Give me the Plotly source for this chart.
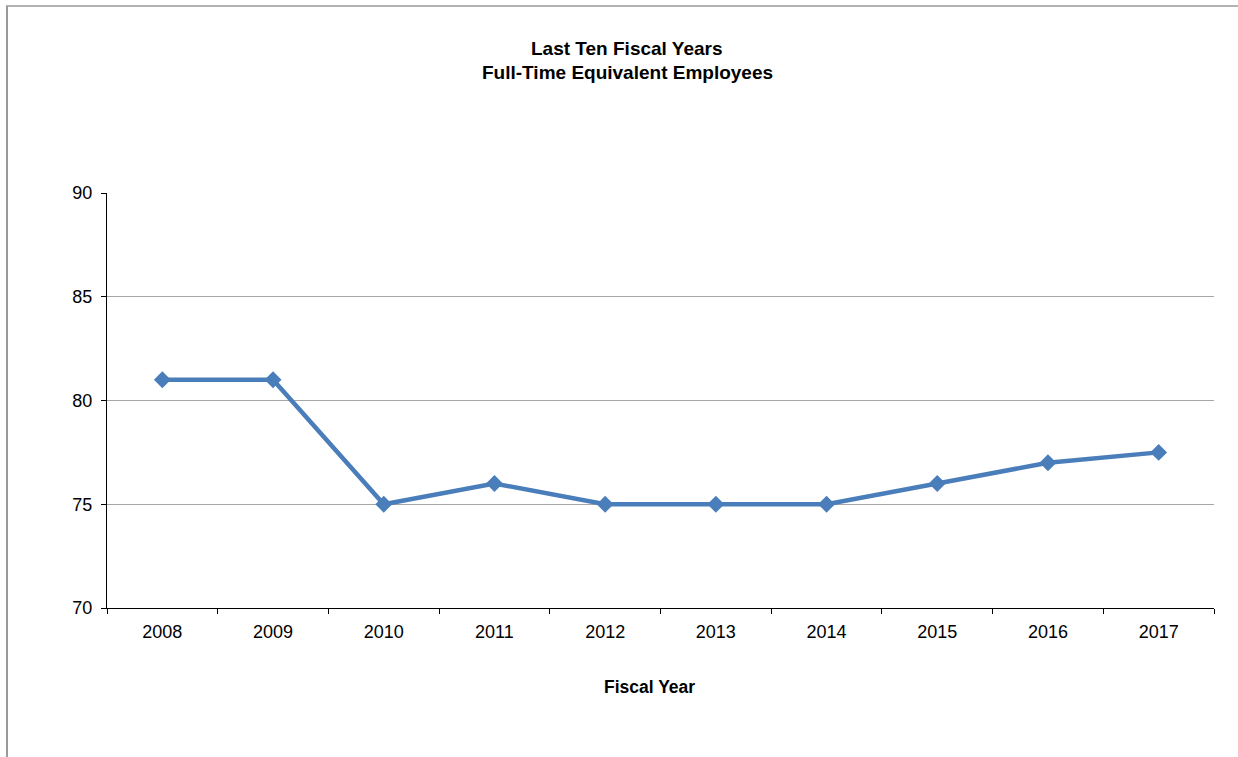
import plotly.graph_objects as go

# Full-time equivalent employees by fiscal year
fiscal_years = ["2008", "2009", "2010", "2011", "2012", "2013", "2014", "2015", "2016", "2017"]
fte_counts = [81, 81, 75, 76, 75, 75, 75, 76, 77, 77.5]

y_ticks = [70, 75, 80, 85, 90]
title_lines = ["Last Ten Fiscal Years", "Full-Time Equivalent Employees"]

FONT = "Liberation Sans, Arial, sans-serif"
LINE_BLUE = "#4A7EBB"

# Plot-area geometry in pixels (used to place frame lines and labels in paper units)
W, H = 1238, 757
L, R, T, B = 107, 1214, 193, 608
pw, ph = R - L, B - T


def px_x(x):
    return (x - L) / pw


def px_y(y):
    return (B - y) / ph


fig = go.Figure()
fig.add_trace(
    go.Scatter(
        x=fiscal_years,
        y=fte_counts,
        mode="lines+markers",
        line=dict(color=LINE_BLUE, width=4.5),
        marker=dict(symbol="diamond", size=13, color=LINE_BLUE),
        showlegend=False,
        cliponaxis=False,
    )
)

title_annotations = [
    dict(
        text=f"<b>{line}</b>",
        x=px_x(627), y=px_y(y_px),
        xref="paper", yref="paper",
        xanchor="center", yanchor="middle",
        showarrow=False,
        font=dict(family=FONT, size=19, color="black"),
    )
    for line, y_px in zip(title_lines, [49, 72])
]

fig.update_layout(
    width=W,
    height=H,
    margin=dict(l=L, r=W - R, t=T, b=H - B),
    paper_bgcolor="white",
    plot_bgcolor="white",
    font=dict(family=FONT, size=18, color="black"),
    xaxis=dict(
        type="category",
        range=[-0.5, len(fiscal_years) - 0.5],
        tickson="boundaries",
        ticks="outside",
        ticklen=5,
        tickcolor="#000000",
        tickwidth=1,
        showgrid=False,
        showline=True,
        linecolor="#000000",
        linewidth=1,
        tickfont=dict(size=18),
        ticklabelstandoff=7,
        zeroline=False,
    ),
    yaxis=dict(
        range=[70, 90],
        tickvals=y_ticks,
        ticks="outside",
        ticklen=5,
        tickcolor="#000000",
        showgrid=True,
        gridcolor="#a6a6a6",
        gridwidth=1,
        showline=True,
        linecolor="#000000",
        linewidth=1,
        tickfont=dict(size=18),
        ticklabelstandoff=5,
        zeroline=False,
    ),
    annotations=title_annotations + [
        dict(
            text="<b>Fiscal Year</b>",
            x=px_x(649), y=px_y(687),
            xref="paper", yref="paper",
            xanchor="center", yanchor="middle",
            showarrow=False,
            font=dict(family=FONT, size=17.5, color="black"),
        ),
    ],
    shapes=[
        # outer chart frame: top and left edges
        dict(type="line", xref="paper", yref="paper",
             x0=px_x(6), x1=px_x(W), y0=px_y(6), y1=px_y(6),
             line=dict(color="#9a9a9a", width=1.5)),
        dict(type="line", xref="paper", yref="paper",
             x0=px_x(7), x1=px_x(7), y0=px_y(6), y1=px_y(H),
             line=dict(color="#9a9a9a", width=2)),
    ],
)

fig.write_html("out.html")
